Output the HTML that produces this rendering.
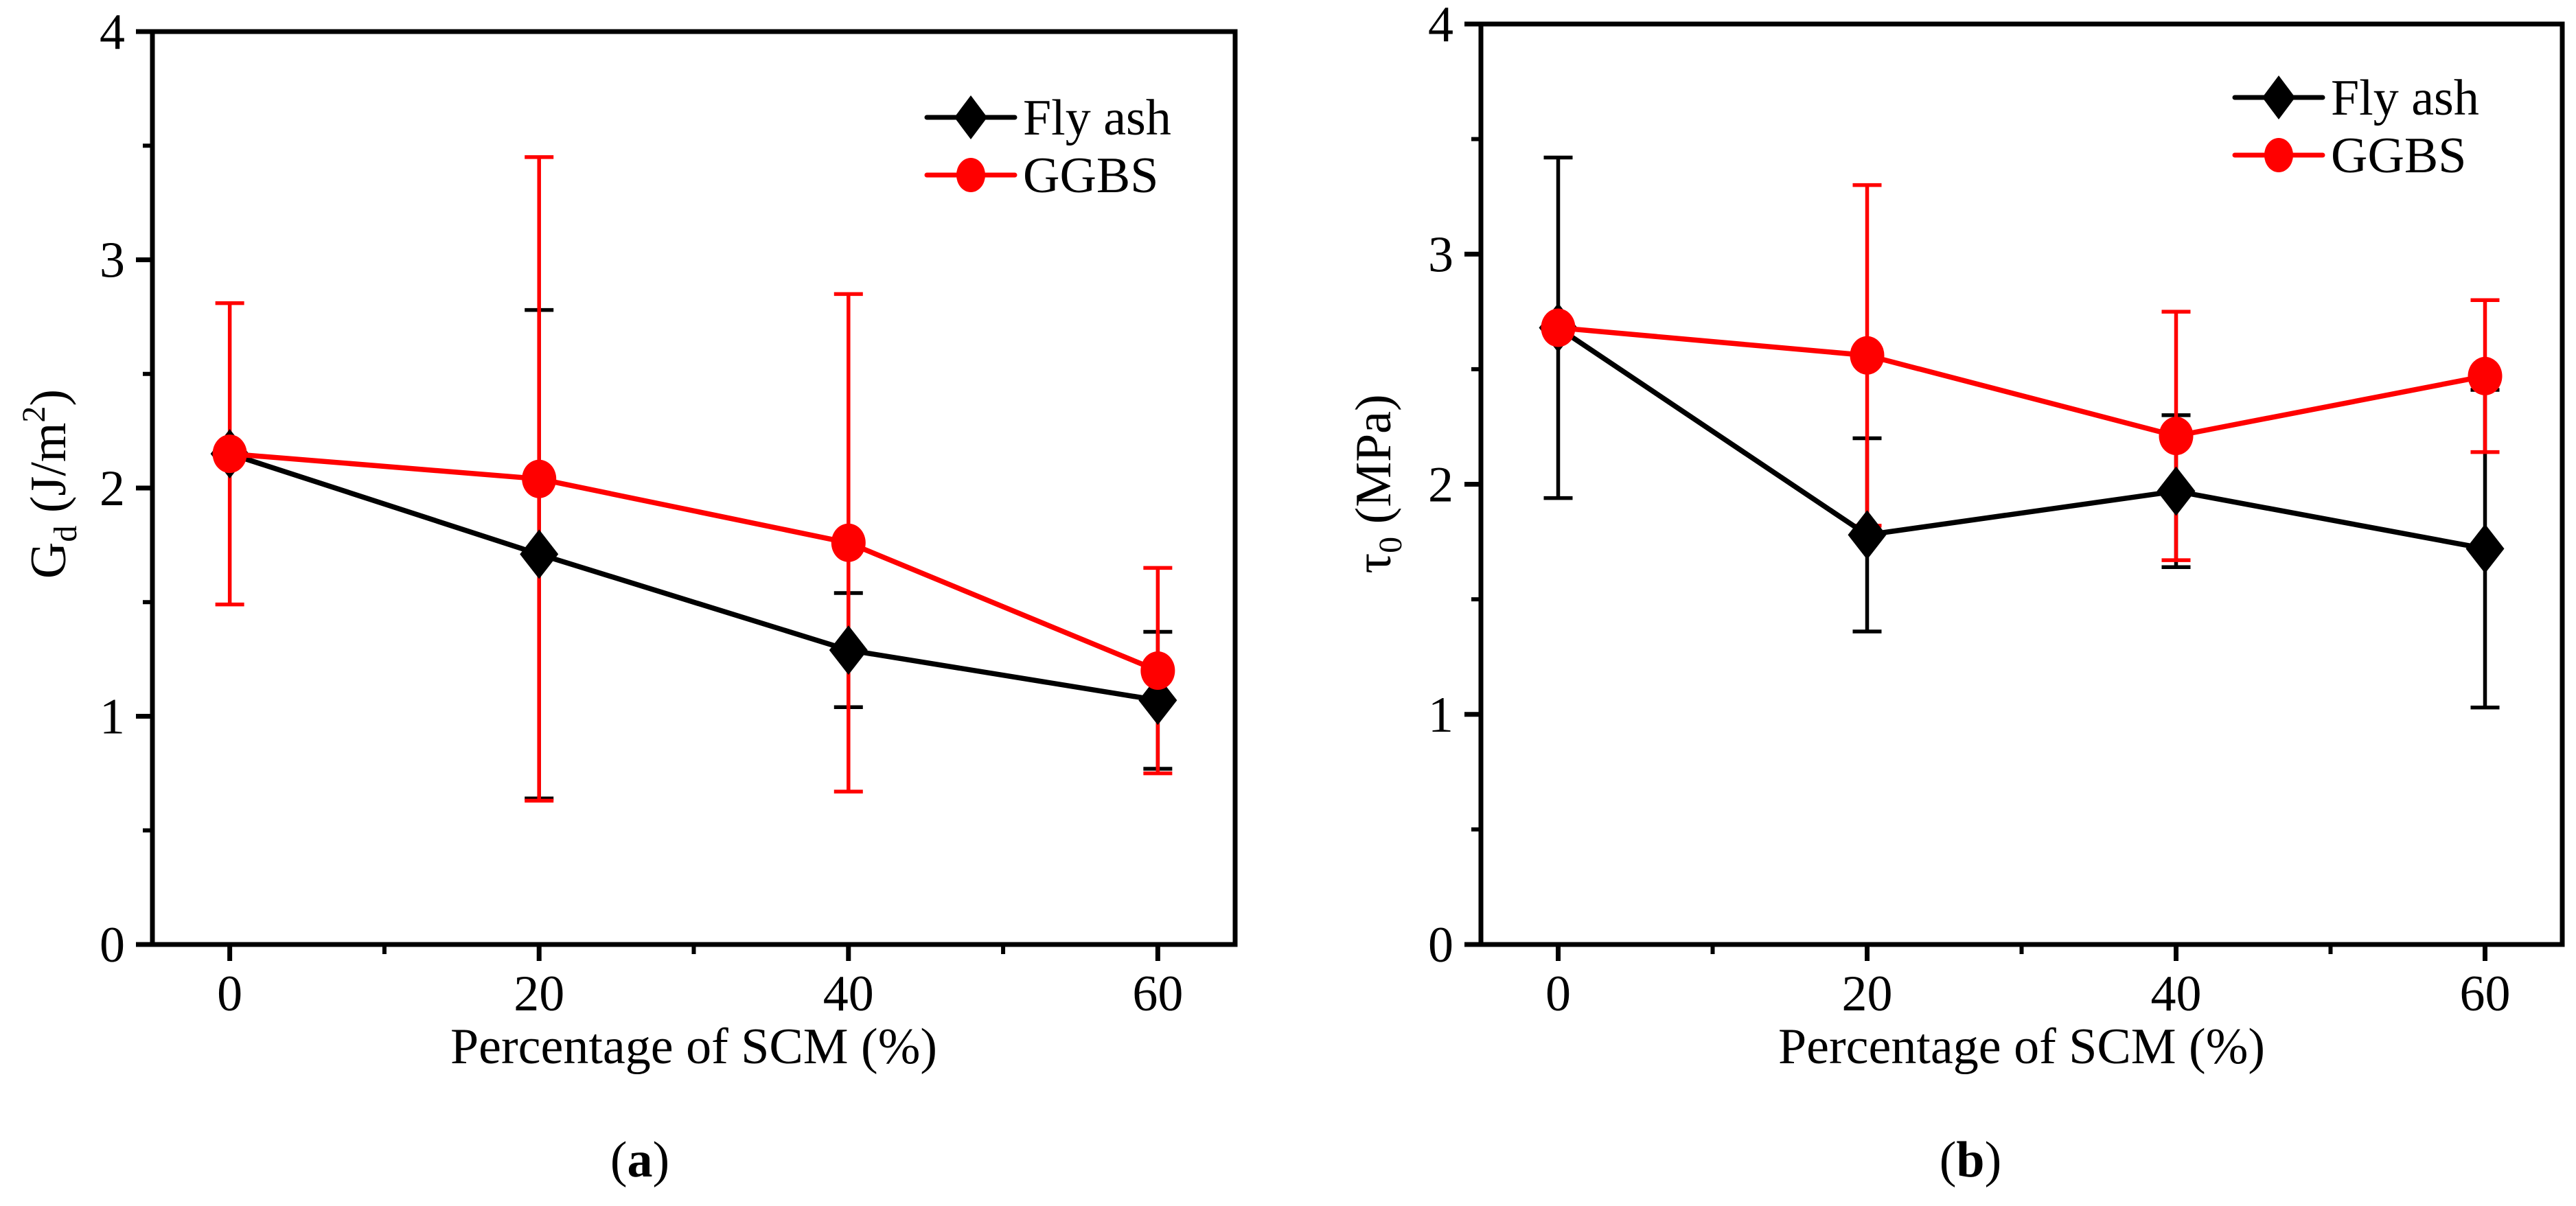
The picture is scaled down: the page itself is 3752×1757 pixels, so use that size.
<!DOCTYPE html>
<html><head><meta charset="utf-8"><style>
html,body{margin:0;padding:0;background:#fff;}
svg, svg text{font-family:"Liberation Serif","Times New Roman","DejaVu Serif",serif;}
</style></head><body>
<svg id="fig" width="3752" height="1752" viewBox="0 0 3752 1752" xmlns="http://www.w3.org/2000/svg" font-family="Liberation Serif, Times New Roman, DejaVu Serif, serif"></svg>
<script>
const categories = [0, 20, 40, 60];
const xTicks = [0, 20, 40, 60];
const yTicks = [0, 1, 2, 3, 4];
// Panel a: G_d
const aFly = [2.15, 1.71, 1.29, 1.07];
const aFlyLo = [2.15, 0.64, 1.04, 0.77];
const aFlyHi = [2.15, 2.78, 1.54, 1.37];
const aGg = [2.15, 2.04, 1.76, 1.20];
const aGgLo = [1.49, 0.63, 0.67, 0.75];
const aGgHi = [2.81, 3.45, 2.85, 1.65];
// Panel b: tau_0
const bFly = [2.68, 1.78, 1.97, 1.72];
const bFlyLo = [1.94, 1.36, 1.64, 1.03];
const bFlyHi = [3.42, 2.20, 2.30, 2.41];
const bGg = [2.68, 2.56, 2.21, 2.47];
const bGgLo = [2.68, 1.82, 1.67, 2.14];
const bGgHi = [2.68, 3.30, 2.75, 2.80];

const NS = "http://www.w3.org/2000/svg";
const FONT = '"Liberation Serif", "Times New Roman", "DejaVu Serif", serif';
const svg = document.getElementById('fig');
function mk(tag, attrs, parent, text){
  const e = document.createElementNS(NS, tag);
  for (const k in attrs) e.setAttribute(k, attrs[k]);
  if (tag === 'text') e.style.fontFamily = FONT;
  if (text !== undefined) e.textContent = text;
  (parent || svg).appendChild(e);
  return e;
}

function panel(p){
  const g = mk('g', {});
  
  
  const sx = v => p.L + (v - (-5)) / 70 * (p.R - p.L);
  const sy = v => p.B - v / 4 * (p.B - p.T);
  const fr = mk('rect', {x:p.L, y:p.T, width:p.R-p.L, height:p.B-p.T, fill:'none', stroke:'#000', 'stroke-width':7}, g);
  
  
  yTicks.forEach(t => {
    const y = sy(t);
    mk('line', {x1:p.L-24, x2:p.L, y1:y, y2:y, stroke:'#000', 'stroke-width':7}, g);
    const lb = mk('text', {x:p.L-40, y:y+25, 'font-size':74, 'text-anchor':'end'}, g, String(t));
    
    
    if (t < 4) { const ym = sy(t+0.5); mk('line', {x1:p.L-14, x2:p.L, y1:ym, y2:ym, stroke:'#000', 'stroke-width':6}, g); }
  });
  xTicks.forEach(t => {
    const x = sx(t);
    mk('line', {x1:x, x2:x, y1:p.B, y2:p.B+24, stroke:'#000', 'stroke-width':7}, g);
    const lb = mk('text', {x:x, y:p.B+96, 'font-size':74, 'text-anchor':'middle'}, g, String(t));
    
    
    if (t < 60) { const xm = sx(t+10); mk('line', {x1:xm, x2:xm, y1:p.B, y2:p.B+14, stroke:'#000', 'stroke-width':6}, g); }
  });
  const xt = mk('text', {x:(p.L+p.R)/2, y:1549, 'font-size':74, 'text-anchor':'middle'}, g, 'Percentage of SCM (%)');
  
  
  const yt = mk('text', {transform:`translate(${p.ylx},${p.yly}) rotate(-90)`, 'font-size':74, 'text-anchor':'middle'}, g);
  
  
  p.ylab(yt);
  const cap = mk('text', {x:p.capx, y:1714, 'font-size':74, 'text-anchor':'middle'}, g);
  
  
  mk('tspan', {}, cap, '(');
  mk('tspan', {'font-weight':'bold'}, cap, p.letter);
  mk('tspan', {}, cap, ')');

  const series = [
    {vals:p.fly, lo:p.flyLo, hi:p.flyHi, color:'#000', m:'diamond', nm:'fly-ash'},
    {vals:p.gg, lo:p.ggLo, hi:p.ggHi, color:'#ff0000', m:'circle', nm:'ggbs'}
  ];
  series.forEach(s => {
    categories.forEach((c, i) => {
      const x = sx(c);
      if (s.hi[i] - s.lo[i] < 0.01) return;
      const eg = mk('g', {stroke:s.color, 'stroke-width':5.5}, g);
      
      
      mk('line', {x1:x, x2:x, y1:sy(s.lo[i]), y2:sy(s.hi[i])}, eg);
      mk('line', {x1:x-21, x2:x+21, y1:sy(s.lo[i]), y2:sy(s.lo[i])}, eg);
      mk('line', {x1:x-21, x2:x+21, y1:sy(s.hi[i]), y2:sy(s.hi[i])}, eg);
    });
  });
  series.forEach(s => {
    const pts = categories.map((c, i) => sx(c) + ',' + sy(s.vals[i])).join(' ');
    const ln = mk('polyline', {points:pts, fill:'none', stroke:s.color, 'stroke-width':7.5, 'stroke-linejoin':'round'}, g);
    
    
    categories.forEach((c, i) => {
      const x = sx(c), y = sy(s.vals[i]);
      let mkr;
      if (s.m === 'diamond') mkr = mk('polygon', {points:`${x},${y-36} ${x+28},${y} ${x},${y+36} ${x-28},${y}`, fill:s.color}, g);
      else mkr = mk('ellipse', {cx:x, cy:y, rx:25, ry:28, fill:s.color}, g);
      
      
    });
  });
  const lg = mk('g', {}, g);
  
  
  const ly = [p.legY, p.legY + 84];
  series.forEach((s, k) => {
    const y = ly[k], x0 = p.legX, x1 = p.legX + 128, xc = (x0 + x1) / 2;
    const le = mk('g', {}, lg);
    
    
    mk('line', {x1:x0, x2:x1, y1:y, y2:y, stroke:s.color, 'stroke-width':7, 'stroke-linecap':'round'}, le);
    if (s.m === 'diamond') mk('polygon', {points:`${xc},${y-32} ${xc+24},${y} ${xc},${y+32} ${xc-24},${y}`, fill:s.color}, le);
    else mk('ellipse', {cx:xc, cy:y, rx:21, ry:25, fill:s.color}, le);
    mk('text', {x:x1+12, y:y+25, 'font-size':74}, le, k === 0 ? 'Fly ash' : 'GGBS');
  });
}

panel({name:'panel-a-gd-chart', L:222, R:1799, T:46, B:1376, letter:'a', capx:932,
  fly:aFly, flyLo:aFlyLo, flyHi:aFlyHi, gg:aGg, ggLo:aGgLo, ggHi:aGgHi,
  legX:1350, legY:171, ylx:95, yly:705,
  ylab: t => { t.appendChild(document.createTextNode('G')); mk('tspan',{'font-size':48,dy:16},t,'d'); mk('tspan',{dy:-16},t,' (J/m'); mk('tspan',{'font-size':48,dy:-30},t,'2'); mk('tspan',{dy:30},t,')'); }
});
panel({name:'panel-b-tau-chart', L:2157, R:3732, T:35, B:1376, letter:'b', capx:2870,
  fly:bFly, flyLo:bFlyLo, flyHi:bFlyHi, gg:bGg, ggLo:bGgLo, ggHi:bGgHi,
  legX:3255, legY:142, ylx:2025, yly:705,
  ylab: t => { t.appendChild(document.createTextNode('\u03C4')); mk('tspan',{'font-size':48,dy:16},t,'0'); mk('tspan',{dy:-16},t,' (MPa)'); }
});
</script>
</body></html>
